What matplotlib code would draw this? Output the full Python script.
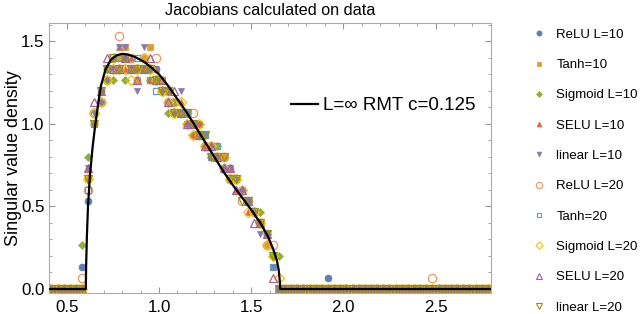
import numpy as np
import matplotlib
matplotlib.use("Agg")
import matplotlib.pyplot as plt
from matplotlib.lines import Line2D

plt.rcParams['font.family'] = ['Liberation Sans', 'DejaVu Sans']

# histogram bins: width 1/30, shown range 0.4 .. 2.8
BIN_W = 1 / 30
first_bin, last_bin = 12, 83          # bin index k -> centre (k + 0.5) / 30
support_first = 17                    # counts below start at bin 17 (x~0.583)

# counts per bin (density = count / 15), bins 0.583 .. 1.650
relu10 = [2, 8, 15, 18, 20, 20, 20, 21, 20, 19, 20, 20, 20, 18, 18, 17, 16, 16, 15, 15, 13, 13, 12, 11, 11, 10, 9, 8, 7, 6, 5, 3, 0]
tanh10 = [0, 10, 15, 17, 19, 20, 21, 22, 20, 19, 21, 22, 19, 19, 17, 17, 16, 15, 15, 14, 14, 13, 12, 12, 11, 10, 9, 8, 7, 6, 4, 2, 0]
sigm10 = [4, 12, 15, 17, 19, 19, 20, 19, 20, 20, 20, 19, 19, 18, 16, 17, 16, 15, 14, 14, 13, 12, 13, 11, 10, 10, 9, 8, 7, 7, 5, 3, 3]
selu10 = [0, 11, 15, 17, 20, 21, 22, 20, 21, 20, 20, 19, 20, 18, 18, 16, 17, 15, 14, 15, 13, 12, 12, 11, 11, 9, 9, 7, 7, 6, 5, 2, 0]
lin10 = [0, 11, 16, 17, 19, 20, 22, 22, 20, 18, 22, 20, 20, 18, 18, 16, 18, 15, 15, 14, 14, 13, 12, 11, 11, 10, 9, 8, 7, 5, 5, 2, 0]
relu20 = [1, 9, 16, 17, 19, 21, 23, 20, 21, 20, 21, 20, 21, 18, 18, 17, 16, 16, 16, 14, 13, 13, 12, 12, 10, 10, 8, 8, 7, 6, 4, 4, 0]
tanh20 = [0, 9, 16, 17, 20, 20, 21, 21, 20, 21, 20, 19, 18, 19, 17, 16, 16, 16, 15, 15, 14, 12, 13, 11, 10, 10, 9, 8, 7, 6, 5, 2, 0]
sigm20 = [0, 10, 16, 17, 19, 20, 20, 20, 19, 20, 21, 20, 19, 18, 17, 16, 17, 15, 14, 15, 13, 13, 12, 11, 10, 10, 9, 7, 7, 6, 4, 3, 1]
selu20 = [0, 11, 17, 18, 21, 20, 20, 21, 20, 19, 20, 21, 19, 19, 17, 18, 16, 15, 15, 14, 13, 13, 12, 11, 11, 9, 9, 8, 6, 6, 5, 1, 0]
lin20 = [0, 10, 15, 18, 20, 21, 20, 21, 20, 20, 20, 20, 19, 18, 18, 16, 16, 16, 15, 14, 14, 12, 12, 12, 10, 10, 8, 8, 7, 6, 5, 3, 0]

# lone outliers (bin index, count)
relu10_extra = (57, 1)
relu20_extra = (74, 1)

labels = ["ReLU L=10", "Tanh=10", "Sigmoid L=10", "SELU L=10", "linear L=10",
          "ReLU L=20", "Tanh=20", "Sigmoid L=20", "SELU L=20", "linear L=20"]

# RMT curve
rmt_x = [0.40, 0.603, 0.605, 0.609, 0.615, 0.625, 0.64, 0.655, 0.67, 0.685, 0.71, 0.74, 0.77, 0.80,
         0.83, 0.87, 0.92, 0.96, 1.00, 1.05, 1.10, 1.15, 1.20, 1.25, 1.30, 1.35, 1.40, 1.45,
         1.50, 1.55, 1.59, 1.62, 1.64, 1.65, 1.655, 1.658, 2.80]
rmt_y = [0.0, 0.0, 0.15, 0.32, 0.50, 0.68, 0.86, 1.00, 1.12, 1.23, 1.33, 1.39, 1.415, 1.424,
         1.42, 1.405, 1.375, 1.34, 1.30, 1.23, 1.15, 1.07, 0.98, 0.89, 0.80, 0.71, 0.63, 0.555,
         0.48, 0.40, 0.32, 0.24, 0.17, 0.11, 0.05, 0.0, 0.0]

colors = [(0.368, 0.507, 0.710), (0.881, 0.611, 0.142), (0.560, 0.692, 0.195),
          (0.923, 0.386, 0.209), (0.528, 0.471, 0.701), (0.94, 0.60, 0.40),
          (0.364, 0.619, 0.782), (1.0, 0.75, 0.0), (0.648, 0.378, 0.614), (0.572, 0.586, 0.0)]
markers = ['o', 's', 'D', '^', 'v', 'o', 's', 'D', '^', 'v']
sizes = [5.0, 4.2, 4.0, 4.6, 4.6, 6.0, 4.8, 4.8, 5.6, 5.6]
filled = [True] * 5 + [False] * 5

series = [relu10, tanh10, sigm10, selu10, lin10, relu20, tanh20, sigm20, selu20, lin20]

fig = plt.figure(figsize=(6.4, 3.14), dpi=100)
ax = fig.add_axes([0.077, 0.068, 0.690, 0.860])

k_all = np.arange(first_bin, last_bin + 1)
centres = (k_all + 0.5) * BIN_W

handles = []
for i, counts in enumerate(series):
    full = np.zeros(len(k_all))
    full[support_first - first_bin:support_first - first_bin + len(counts)] = counts
    if i == 0:
        full[relu10_extra[0] - first_bin] = relu10_extra[1]
    if i == 5:
        full[relu20_extra[0] - first_bin] = relu20_extra[1]
    dens = full / 15
    if filled[i]:
        ax.plot(centres, dens, ls='none', marker=markers[i], ms=sizes[i],
                mfc=colors[i], mec=colors[i], mew=0.5, zorder=2)
    else:
        ax.plot(centres, dens, ls='none', marker=markers[i], ms=sizes[i],
                mfc='none', mec=colors[i], mew=0.9, zorder=2)
    handles.append(Line2D([], [], ls='none', marker=markers[i], ms=sizes[i] * 0.75,
                          mfc=colors[i] if filled[i] else 'none', mec=colors[i],
                          mew=0.5 if filled[i] else 0.8))

rmt_line, = ax.plot(rmt_x, rmt_y, color='black', lw=1.6, zorder=5)

ax.set_xlim(0.405, 2.80)
ax.set_ylim(-0.022, 1.613)
ax.set_xticks([0.5, 1.0, 1.5, 2.0, 2.5])
ax.set_yticks([0.0, 0.5, 1.0, 1.5])
ax.set_xticks(np.arange(0.5, 2.8, 0.1), minor=True)
ax.set_yticks(np.arange(0.0, 1.61, 0.1), minor=True)
ax.tick_params(which='both', direction='in', top=True, right=True, color='#999999',
               labelsize=12.2)
ax.tick_params(which='major', length=4)
ax.tick_params(which='minor', length=2)
ax.tick_params(axis='x', pad=5.5)
for s in ax.spines.values():
    s.set_color('#aaaaaa')

ax.set_title("Jacobians calculated on data", fontsize=11.7, pad=5.5)
ax.set_ylabel("Singular value density", fontsize=12.9, labelpad=-1)

ax.legend([rmt_line], ["L=\u221e RMT c=0.125"], loc='center left',
          bbox_to_anchor=(0.547, 0.693), frameon=False, fontsize=13.5,
          handlelength=1.44, handletextpad=0.27, borderpad=0, borderaxespad=0)

fig.legend(handles, labels, loc='upper left', bbox_to_anchor=(0.832, 0.909),
           frameon=False, fontsize=9.5, labelspacing=1.37, handletextpad=0.82,
           handlelength=1.0, borderpad=0, borderaxespad=0)

fig.savefig("out.png", dpi=100)
